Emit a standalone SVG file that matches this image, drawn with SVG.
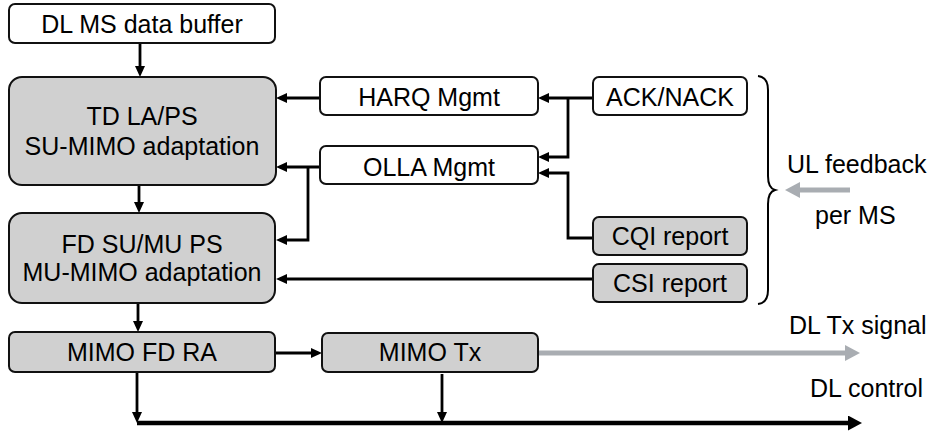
<svg xmlns="http://www.w3.org/2000/svg" width="936" height="432" viewBox="0 0 936 432">
  <defs>
    <marker id="arr" markerUnits="userSpaceOnUse" markerWidth="11" markerHeight="10" refX="6" refY="5" orient="auto">
      <path d="M0,0 L11,5 L0,10 z" fill="#000"/>
    </marker>
    <marker id="arrBig" markerUnits="userSpaceOnUse" markerWidth="14" markerHeight="15" refX="8" refY="7.5" orient="auto">
      <path d="M0,0 L14,7.5 L0,15 z" fill="#000"/>
    </marker>
    <marker id="arrGray" markerUnits="userSpaceOnUse" markerWidth="15" markerHeight="16" refX="8" refY="8" orient="auto">
      <path d="M0,0 L15,8 L0,16 z" fill="#a9adb2"/>
    </marker>
  </defs>
  <style>
    .box { stroke: #111; stroke-width: 2; }
    .white { fill: #fff; }
    .grey { fill: #d0d0d0; }
    .lbl { font-family: "Liberation Sans", Arial, sans-serif; font-size: 25px; fill: #000; text-anchor: middle; }
    .free { font-family: "Liberation Sans", Arial, sans-serif; font-size: 25px; fill: #000; }
    .conn { fill: none; stroke: #000; stroke-width: 2.8; }
    .bus { fill: none; stroke: #000; stroke-width: 4.5; }
    .sig { fill: none; stroke: #a9adb2; stroke-width: 5; }
  </style>

  <!-- connectors -->
  <g id="connectors">
    <path class="conn" d="M140,43 V72" marker-end="url(#arr)"/>
    <path class="conn" d="M139,185 V208" marker-end="url(#arr)"/>
    <path class="conn" d="M138,303 V327" marker-end="url(#arr)"/>
    <path class="conn" d="M320,98 H281" marker-end="url(#arr)"/>
    <path class="conn" d="M593,98 H543" marker-end="url(#arr)"/>
    <path class="conn" d="M568,98 V157 H543" marker-end="url(#arr)"/>
    <path class="conn" d="M320,167 H281" marker-end="url(#arr)"/>
    <path class="conn" d="M308,167 V240 H281" marker-end="url(#arr)"/>
    <path class="conn" d="M593,238 H568 V173 H543" marker-end="url(#arr)"/>
    <path class="conn" d="M593,279 H281" marker-end="url(#arr)"/>
    <path class="conn" d="M276,353 H317" marker-end="url(#arr)"/>
    <path class="conn" d="M137,372 V418" marker-end="url(#arr)"/>
    <path class="conn" d="M442,374 V418" marker-end="url(#arr)"/>
    <path class="bus" d="M137,423 H856" marker-end="url(#arrBig)"/>
    <path class="sig" d="M538,353 H853" marker-end="url(#arrGray)"/>
    <path class="sig" d="M850,190 H792" marker-end="url(#arrGray)"/>
    <!-- brace grouping the uplink feedback inputs -->
    <path d="M758,76 Q768,77 768,90 V176 Q768,188 775,190 Q768,192 768,204 V290 Q768,303 758,304" fill="none" stroke="#000" stroke-width="2"/>
  </g>

  <g id="buffer">
    <rect class="box white" x="9" y="4" width="266" height="39" rx="6"/>
    <text class="lbl" x="142" y="33">DL MS data buffer</text>
  </g>
  <g id="td-la-ps">
    <rect class="box grey" x="9" y="77" width="267" height="108" rx="13"/>
    <text class="lbl" x="142" y="125">TD LA/PS</text>
    <text class="lbl" x="142" y="155">SU-MIMO adaptation</text>
  </g>
  <g id="fd-su-mu-ps">
    <rect class="box grey" x="9" y="213" width="266" height="90" rx="13"/>
    <text class="lbl" x="142" y="253">FD SU/MU PS</text>
    <text class="lbl" x="142" y="281">MU-MIMO adaptation</text>
  </g>
  <g id="harq">
    <rect class="box white" x="320" y="77" width="218" height="38" rx="6"/>
    <text class="lbl" x="429" y="106">HARQ Mgmt</text>
  </g>
  <g id="olla">
    <rect class="box white" x="320" y="146" width="218" height="38" rx="6"/>
    <text class="lbl" x="429" y="176">OLLA Mgmt</text>
  </g>
  <g id="ack-nack">
    <rect class="box white" x="593" y="77" width="154" height="38" rx="6"/>
    <text class="lbl" x="670" y="106">ACK/NACK</text>
  </g>
  <g id="cqi">
    <rect class="box grey" x="593" y="217" width="154" height="38" rx="6"/>
    <text class="lbl" x="670" y="245">CQI report</text>
  </g>
  <g id="csi">
    <rect class="box grey" x="593" y="264" width="154" height="38" rx="6"/>
    <text class="lbl" x="670" y="292">CSI report</text>
  </g>
  <g id="mimo-fd-ra">
    <rect class="box grey" x="9" y="332" width="266" height="40" rx="6"/>
    <text class="lbl" x="142" y="361">MIMO FD RA</text>
  </g>
  <g id="mimo-tx">
    <rect class="box grey" x="322" y="333" width="216" height="39" rx="6"/>
    <text class="lbl" x="430" y="361">MIMO Tx</text>
  </g>

  <g id="labels">
    <text class="free" x="787" y="173">UL feedback</text>
    <text class="free" x="815" y="224">per MS</text>
    <text class="free" x="789" y="334">DL Tx signal</text>
    <text class="free" x="810" y="397">DL control</text>
  </g>
</svg>
